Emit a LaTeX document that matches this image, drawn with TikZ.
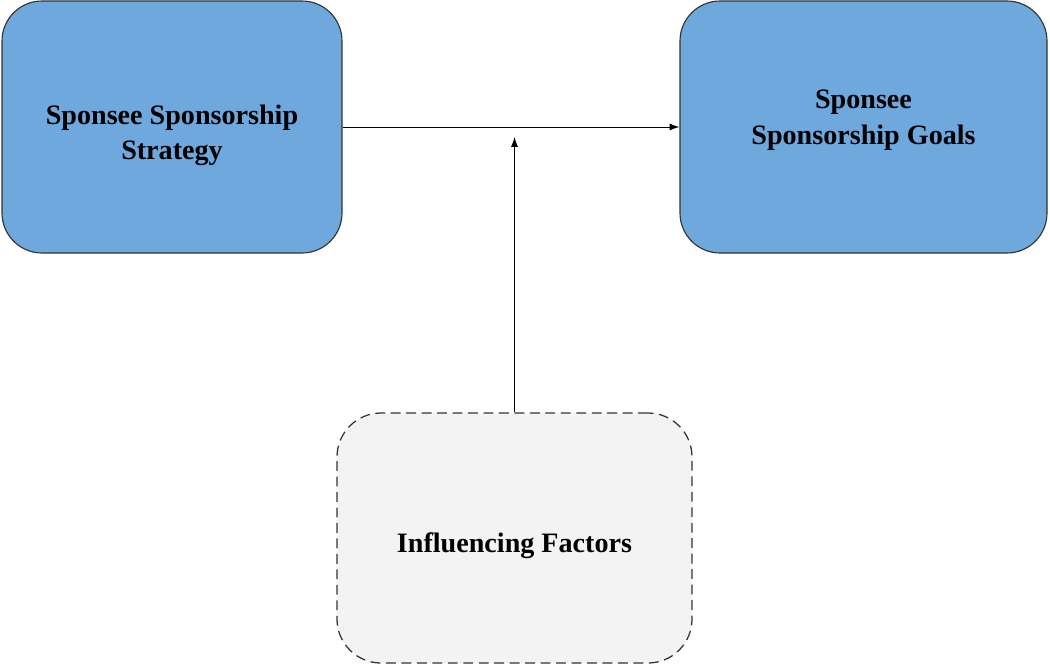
\documentclass[tikz,border=0pt]{standalone}
\usepackage{fontspec}
\setmainfont{Liberation Serif}
\usepackage{xcolor}
\usetikzlibrary{arrows.meta}

\definecolor{boxblue}{HTML}{6FA8DC}
\definecolor{boxgray}{HTML}{F3F3F3}
\definecolor{edgegray}{HTML}{333333}

\begin{document}
\begin{tikzpicture}[
	boxtext/.style={align=center, font=\fontsize{20}{25}\selectfont\bfseries},
	mainbox/.style={draw=edgegray, line width=0.8pt, fill=boxblue, rounded corners=1cm,
		minimum height=6.3cm},
	factorbox/.style={draw=edgegray, line width=0.9pt, fill=boxgray, rounded corners=1.1cm,
		dash pattern=on 7pt off 4pt, minimum width=8.875cm, minimum height=6.25cm},
	link/.style={line width=0.7pt, -{Latex[length=7pt,width=5pt]}}
	]
	\useasboundingbox (0,0) rectangle (26.25,-16.675);

	\node[mainbox, minimum width=8.5cm,
		label={[boxtext, yshift=-0.2cm]center:Sponsee Sponsorship\\Strategy}] (strategy) at (4.3,-3.175) {};
	\node[mainbox, minimum width=9.175cm,
		label={[boxtext, yshift=0.17cm]center:Sponsee\\Sponsorship Goals}] (goals) at (21.5875,-3.175) {};
	\node[factorbox,
		label={[boxtext, yshift=-0.2cm]center:Influencing Factors}] (factors) at (12.8625,-13.45) {};

	\coordinate (meet) at (12.8625,-3.425);

	\draw[link] (strategy.east) -- (goals.west);
	\draw[link] (factors.north) -- (meet);
\end{tikzpicture}
\end{document}
